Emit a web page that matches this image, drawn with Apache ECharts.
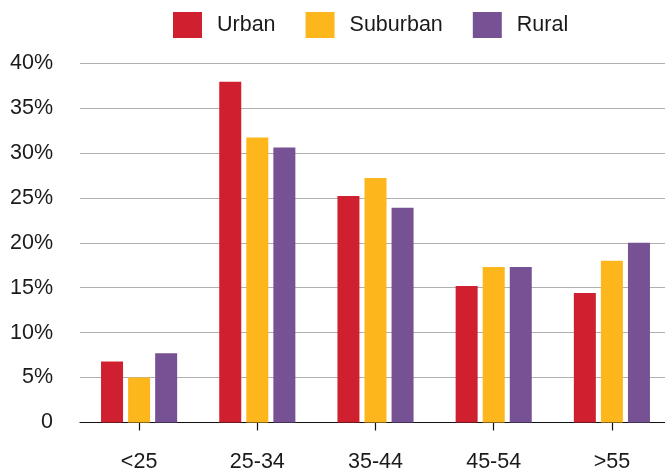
<!DOCTYPE html>
<html>
<head>
<meta charset="utf-8">
<title>Age distribution by area</title>
<script src="https://cdn.jsdelivr.net/npm/echarts@6/dist/echarts.min.js"></script>
<style>
  html, body { margin: 0; padding: 0; background: #ffffff; }
  #chart { width: 665px; height: 471px; }
</style>
</head>
<body>
<div id="chart"></div>
<script>
// Age groups and share of each area type (percent)
const categories = ['<25', '25-34', '35-44', '45-54', '>55'];
const urban = [6.8, 37.9, 25.2, 15.2, 14.4];
const suburban = [5.0, 31.7, 27.2, 17.3, 18.0];
const rural = [7.7, 30.6, 23.9, 17.3, 20.0];
const yTicks = { min: 0, max: 40, step: 5 };

const font = '"Liberation Sans", Arial, Helvetica, sans-serif';
const colors = { urban: '#d0202f', suburban: '#fdb61b', rural: '#765193' };

function barSeries(name, data, color) {
  return {
    name: name,
    type: 'bar',
    data: data,
    barWidth: 22,
    barGap: '23%',
    itemStyle: { color: color },
    emphasis: { disabled: true }
  };
}

const chart = echarts.init(document.getElementById('chart'), null, { renderer: 'canvas' });
chart.setOption({
  animation: false,
  textStyle: { fontFamily: font },
  legend: {
    top: 7,
    left: 168,
    itemWidth: 29,
    itemHeight: 26,
    itemGap: 30,
    icon: 'rect',
    textStyle: { fontSize: 21.5, color: '#1a1a1a', fontFamily: font, padding: [0, 0, 0, 10] },
    data: ['Urban', 'Suburban', 'Rural']
  },
  // plot runs slightly past the right edge of the canvas
  grid: { left: 80, width: 591, top: 63, bottom: 48.5, containLabel: false, outerBoundsMode: 'none' },
  xAxis: {
    type: 'category',
    data: categories,
    axisLine: { show: true, lineStyle: { color: '#111', width: 1.2 } },
    axisTick: { show: true, alignWithLabel: true, length: 8, lineStyle: { color: '#111', width: 1.2 } },
    axisLabel: { fontSize: 21.5, color: '#1a1a1a', margin: 29, fontFamily: font }
  },
  yAxis: {
    type: 'value',
    min: yTicks.min,
    max: yTicks.max,
    interval: yTicks.step,
    axisLine: { show: false },
    axisTick: { show: false },
    splitLine: { lineStyle: { color: '#b0b0b0', width: 1.2 } },
    axisLabel: {
      fontSize: 21.5,
      color: '#1a1a1a',
      margin: 27,
      fontFamily: font,
      formatter: function (v) { return v === 0 ? '0' : v + '%'; }
    }
  },
  series: [
    barSeries('Urban', urban, colors.urban),
    barSeries('Suburban', suburban, colors.suburban),
    barSeries('Rural', rural, colors.rural)
  ]
});
</script>
</body>
</html>
